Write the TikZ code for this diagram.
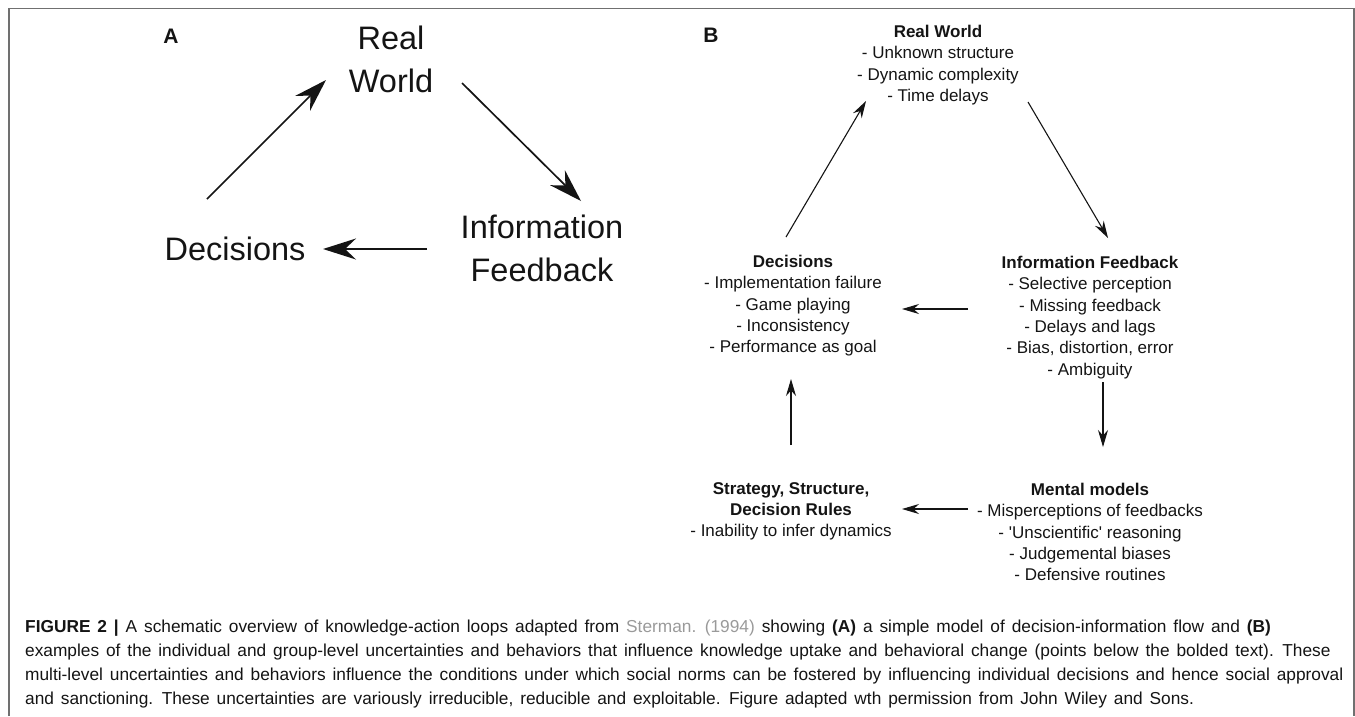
\documentclass[tikz,border=0pt]{standalone}
\usepackage{fontspec}
\setmainfont{Liberation Sans}
\usetikzlibrary{arrows.meta,calc}
\definecolor{framegray}{HTML}{707070}
\definecolor{refgray}{HTML}{9A9A9A}
\definecolor{ink}{HTML}{141414}
\newcommand\capfontsetup{\fontsize{17.3}{24}\selectfont\spaceskip=6.9pt plus 1pt minus 0.5pt\relax}
\begin{document}
\begin{tikzpicture}[x=1pt,y=-1pt,
  lblA/.style={font=\fontsize{32.5}{43}\selectfont, align=center, inner sep=0pt, text=ink},
  lblB/.style={font=\fontsize{17}{21.3}\selectfont, align=center, inner sep=0pt, anchor=north, text=ink},
  panel/.style={font=\fontsize{21}{25}\selectfont\bfseries, inner sep=0pt, text=ink},
  arrA/.style={line width=1.7pt, draw=ink, -{Stealth[length=33pt,width=21pt,inset=11pt]}},
  arrB/.style={line width=1.1pt, draw=ink, -{Stealth[length=17pt,width=10pt,inset=5.5pt]}},
  capstyle/.style={font=\capfontsetup, align=left, inner sep=0pt, anchor=north west, text=ink},
]
\useasboundingbox (0,0) rectangle (1355,716);
\draw[framegray, line width=1.3pt] (9,716) -- (9,8.5) -- (1354,8.5) -- (1354,716);

% Panel A
\node[panel] (labA) at (171,36) {A};
\node[lblA] (realA) at (391,59.5) {Real\\World};
\node[lblA] (decA) at (235,248.5) {Decisions};
\node[lblA] (infoA) at (542,248.5) {Information\\Feedback};

\draw[arrA] ($(decA)+(-28,-49.5)$) -- ($(realA)+(-65,20.5)$);
\draw[arrA] ($(realA)+(71,23.5)$) -- ($(infoA)+(39,-47.5)$);
\draw[arrA] ($(infoA)+(-115,0.5)$) -- ($(decA)+(88,0.5)$);

% Panel B
\node[panel] (labB) at (711,35) {B};
\node[lblB] (realB) at (938,25) {\textbf{Real World}\\- Unknown structure\\- Dynamic complexity\\- Time delays};
\node[lblB] (decB) at (793,255) {\textbf{Decisions}\\- Implementation failure\\- Game playing\\- Inconsistency\\- Performance as goal};
\node[lblB] (infoB) at (1090,256) {\textbf{Information Feedback}\\- Selective perception\\- Missing feedback\\- Delays and lags\\- Bias, distortion, error\\- Ambiguity};
\node[lblB] (stratB) at (791,482) {\textbf{Strategy, Structure,}\\\textbf{Decision Rules}\\- Inability to infer dynamics};
\node[lblB] (mentB) at (1090,483) {\textbf{Mental models}\\- Misperceptions of feedbacks\\- \textquotesingle Unscientific\textquotesingle{} reasoning\\- Judgemental biases\\- Defensive routines};

\draw[arrB] ($(decB.north)+(-7,-18)$) -- ($(realB.north)+(-72,76)$);
\draw[arrB] ($(realB.north)+(90,77)$) -- ($(infoB.north)+(18,-18)$);
\draw[arrB] ($(infoB.north)+(-122,53)$) -- ($(decB.north)+(109,54)$);
\draw[arrB] ($(infoB.north)+(13,126)$) -- ($(mentB.north)+(13,-36)$);
\draw[arrB] ($(stratB.north)+(0,-37)$) -- ($(decB.north)+(-2,124)$);
\draw[arrB] ($(mentB.north)+(-122,26)$) -- ($(stratB.north)+(111,27)$);

% Caption
\node[capstyle] (caption) at (25,620) {\textbf{FIGURE 2 |} A schematic overview of knowledge-action loops adapted from \textcolor{refgray}{Sterman. (1994)} showing \textbf{(A)} a simple model of decision-information flow and \textbf{(B)}\\
examples of the individual and group-level uncertainties and behaviors that influence knowledge uptake and behavioral change (points below the bolded text). These\\
multi-level uncertainties and behaviors influence the conditions under which social norms can be fostered by influencing individual decisions and hence social approval\\
and sanctioning. These uncertainties are variously irreducible, reducible and exploitable. Figure adapted wth permission from John Wiley and Sons.};
\end{tikzpicture}
\end{document}
